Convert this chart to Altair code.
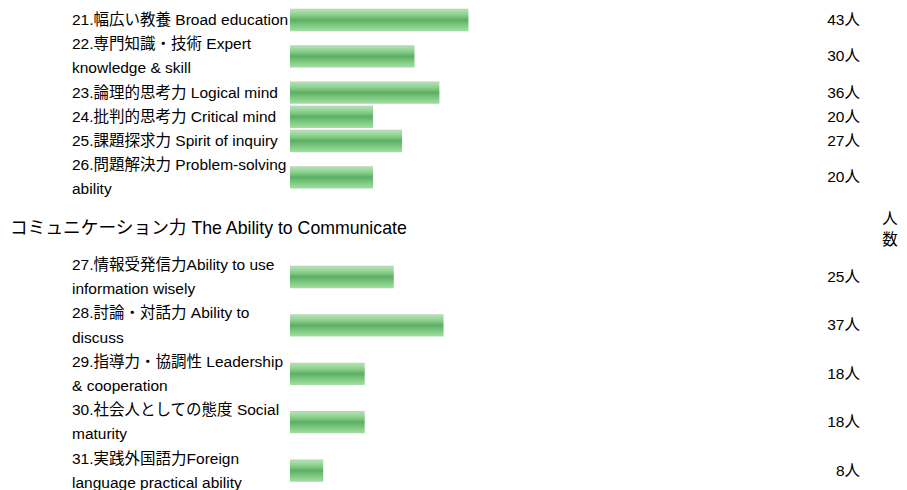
import altair as alt
import pandas as pd

# ---- data ----
item_lines = [
    ["21.幅広い教養 Broad education"],
    ["22.専門知識・技術 Expert", "knowledge & skill"],
    ["23.論理的思考力 Logical mind"],
    ["24.批判的思考力 Critical mind"],
    ["25.課題探求力 Spirit of inquiry"],
    ["26.問題解決力 Problem-solving", "ability"],
    ["27.情報受発信力Ability to use", "information wisely"],
    ["28.討論・対話力 Ability to", "discuss"],
    ["29.指導力・協調性 Leadership", "& cooperation"],
    ["30.社会人としての態度 Social", "maturity"],
    ["31.実践外国語力Foreign", "language practical ability"],
]
counts = [43, 30, 36, 20, 27, 20, 25, 37, 18, 18, 8]
count_unit = "人"
section_headers = {6: "コミュニケーション力 The Ability to Communicate"}
axis_title = ["人", "数"]

# ---- layout in "text line" units derived from the label line counts ----
label_rows, bar_rows, header_rows = [], [], []
cur = 0.0
for i, lines in enumerate(item_lines):
    if i in section_headers:
        header_rows.append({"text": section_headers[i], "y": cur + 0.64})
        cur += 2.12
    ys = []
    for ln in lines:
        label_rows.append({"text": ln, "y": cur})
        ys.append(cur)
        cur += 1
    c = sum(ys) / len(ys)
    bar_rows.append({"n": counts[i], "yc": c, "y1": c - 0.46, "y2": c + 0.46,
                     "lab": f"{counts[i]}{count_unit}"})

labels_df = pd.DataFrame(label_rows)
bars_df = pd.DataFrame(bar_rows)
head_df = pd.DataFrame(header_rows)
title_df = pd.DataFrame([{"text": axis_title, "y": header_rows[0]["y"]}])

FONT = "Liberation Sans, Arial, Noto Sans CJK JP"

yscale = alt.Scale(domain=[0, 10], range=[12, 254], zero=False, nice=False)
xscale = alt.Scale(domain=[0, 10], range=[282, 323.5], zero=False, nice=False)

grad = alt.Gradient(
    gradient="linear", x1=0, x2=0, y1=0, y2=1,
    stops=[
        alt.GradientStop(offset=0.0, color="#bccfbc"),
        alt.GradientStop(offset=0.07, color="#ade0ad"),
        alt.GradientStop(offset=0.3, color="#84ce88"),
        alt.GradientStop(offset=0.5, color="#5ead64"),
        alt.GradientStop(offset=0.62, color="#6cbd71"),
        alt.GradientStop(offset=0.85, color="#8cd390"),
        alt.GradientStop(offset=1.0, color="#a6dca7"),
    ],
)

bars = alt.Chart(bars_df).mark_rect(color=grad).encode(
    x=alt.X("n:Q", scale=xscale, axis=None),
    x2=alt.datum(0),
    y=alt.Y("y1:Q", scale=yscale, axis=None),
    y2="y2:Q",
)

labels = alt.Chart(labels_df).mark_text(
    align="left", baseline="middle", font=FONT, fontSize=15.5, color="#000000"
).encode(
    x=alt.value(64),
    y=alt.Y("y:Q", scale=yscale, axis=None),
    text="text:N",
)

counts_txt = alt.Chart(bars_df).mark_text(
    align="right", baseline="middle", font=FONT, fontSize=15.5, color="#000000"
).encode(
    x=alt.value(852),
    y=alt.Y("yc:Q", scale=yscale, axis=None),
    text="lab:N",
)

headers = alt.Chart(head_df).mark_text(
    align="left", baseline="middle", font=FONT, fontSize=17.7, color="#000000"
).encode(
    x=alt.value(2),
    y=alt.Y("y:Q", scale=yscale, axis=None),
    text="text:N",
)

vtitle = alt.Chart(title_df).mark_text(
    align="center", baseline="middle", font=FONT, fontSize=15.5, color="#000000",
    lineHeight=21, dy=-10.5,
).encode(
    x=alt.value(882),
    y=alt.Y("y:Q", scale=yscale, axis=None),
    text="text",
)

chart = alt.layer(bars, labels, counts_txt, headers, vtitle).properties(
    width=891, height=482, padding=0, autosize=alt.AutoSizeParams(type="none")
).configure_view(strokeWidth=0, fill="transparent")

chart.save("out.html", embed_options={"renderer": "svg", "actions": False})
